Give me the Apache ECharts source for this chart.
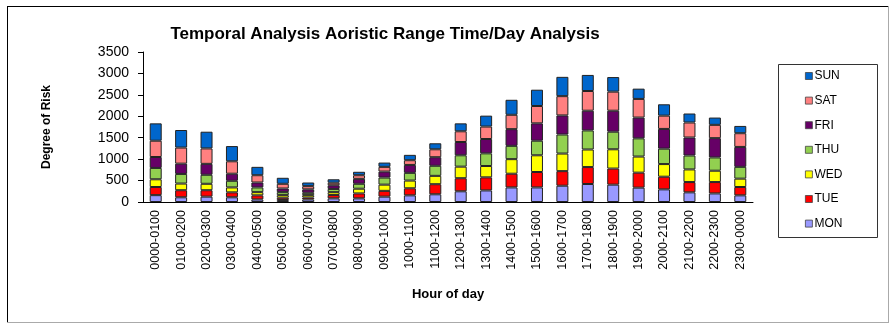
<!DOCTYPE html>
<html>
<head>
<meta charset="utf-8">
<script src="https://cdn.jsdelivr.net/npm/echarts@6/dist/echarts.min.js"></script>
<style>html,body{margin:0;padding:0;background:#fff;}#c{width:896px;height:326px;}</style>
</head>
<body>
<div id="c"></div>
<script>
const categories = ['0000-0100','0100-0200','0200-0300','0300-0400','0400-0500','0500-0600','0600-0700','0700-0800','0800-0900','0900-1000','1000-1100','1100-1200','1200-1300','1300-1400','1400-1500','1500-1600','1600-1700','1700-1800','1800-1900','1900-2000','2000-2100','2100-2200','2200-2300','2300-0000'];
const MON = [160,110,125,110,60,45,60,85,85,125,155,180,250,270,340,340,380,420,405,335,295,225,200,155];
const TUE = [190,165,150,115,95,55,45,80,115,135,165,235,305,305,320,360,340,395,375,350,295,240,265,195];
const WED = [180,155,150,115,75,60,55,65,110,145,180,195,270,265,340,390,410,410,450,375,295,295,265,195];
const THU = [265,225,210,155,110,70,55,75,115,165,180,235,265,295,310,340,445,445,410,425,360,325,310,275];
const FRI = [255,240,255,165,115,85,80,85,115,140,185,200,310,335,390,405,445,460,490,485,460,420,450,465];
const SAT = [380,375,360,290,170,110,75,60,85,110,110,185,250,290,335,405,450,460,445,435,310,350,310,320];
const SUN = [405,410,390,355,195,140,85,80,80,100,125,140,185,255,350,380,450,375,340,240,265,210,170,170];
const yTicks = [0,500,1000,1500,2000,2500,3000,3500];
const legendOrder = ['SUN','SAT','FRI','THU','WED','TUE','MON'];

const seriesDefs = [
  ['MON', MON, '#9999FF'],
  ['TUE', TUE, '#FF0000'],
  ['WED', WED, '#FFFF00'],
  ['THU', THU, '#92D050'],
  ['FRI', FRI, '#660066'],
  ['SAT', SAT, '#FF8080'],
  ['SUN', SUN, '#0066CC']
];

const chart = echarts.init(document.getElementById('c'), null, {renderer:'canvas'});
const font = 'Liberation Sans, Arial, sans-serif';
chart.setOption({
  animation: false,
  backgroundColor: '#fff',
  title: {
    text: 'Temporal Analysis Aoristic Range Time/Day Analysis',
    left: 380, top: 21, textAlign: 'center',
    textStyle: {fontFamily: font, fontSize: 17, fontWeight: 'bold', color: '#000'}
  },
  legend: {
    orient: 'vertical',
    left: 800, top: 65,
    data: legendOrder,
    itemWidth: 7, itemHeight: 7, itemGap: 12.6,
    icon: 'rect',
    textStyle: {fontFamily: font, fontSize: 12, color: '#000', padding: [0,0,0,-3]},
    itemStyle: {borderColor: '#444', borderWidth: 0.8}
  },
  grid: {left: 143, right: 143, top: 52, bottom: 124},
  xAxis: {
    type: 'category',
    data: categories,
    name: 'Hour of day',
    nameLocation: 'middle',
    nameGap: 86,
    nameTextStyle: {fontFamily: font, fontSize: 13, fontWeight: 'bold', color: '#000'},
    axisLine: {lineStyle: {color: '#000', width: 1}},
    axisTick: {length: 4, lineStyle: {color: '#000'}},
    axisLabel: {rotate: 90, margin: 8, fontFamily: font, fontSize: 12.5, color: '#000', interval: 0}
  },
  yAxis: {
    type: 'value',
    min: yTicks[0], max: yTicks[yTicks.length-1], interval: 500,
    name: 'Degree of Risk',
    nameLocation: 'middle',
    nameGap: 90,
    nameTextStyle: {fontFamily: font, fontSize: 12, fontWeight: 'bold', color: '#000'},
    axisLine: {show: true, lineStyle: {color: '#000', width: 1}},
    axisTick: {show: true, length: 5, lineStyle: {color: '#000'}},
    splitLine: {show: false},
    axisLabel: {margin: 14, fontFamily: font, fontSize: 14, color: '#000', formatter: v => String(v)}
  },
  series: seriesDefs.map(([name, data, color]) => ({
    name, type: 'bar', stack: 'total', data,
    barWidth: 12,
    itemStyle: {color, borderColor: '#222', borderWidth: 1}
  })),
  graphic: [
    {type: 'rect', left: 776, top: 62, shape: {width: 99, height: 173}, style: {fill: 'none', stroke: '#333', lineWidth: 1}, z: 0},
    {type: 'line', shape: {x1: 7, y1: 6.5, x2: 889, y2: 6.5}, style: {stroke: '#000', lineWidth: 1}},
    {type: 'line', shape: {x1: 7.5, y1: 6, x2: 7.5, y2: 323}, style: {stroke: '#000', lineWidth: 1}},
    {type: 'line', shape: {x1: 7, y1: 322.5, x2: 889, y2: 322.5}, style: {stroke: '#aaa', lineWidth: 1}},
    {type: 'line', shape: {x1: 888.5, y1: 6, x2: 888.5, y2: 323}, style: {stroke: '#aaa', lineWidth: 1}}
  ]
});
</script>
</body>
</html>
